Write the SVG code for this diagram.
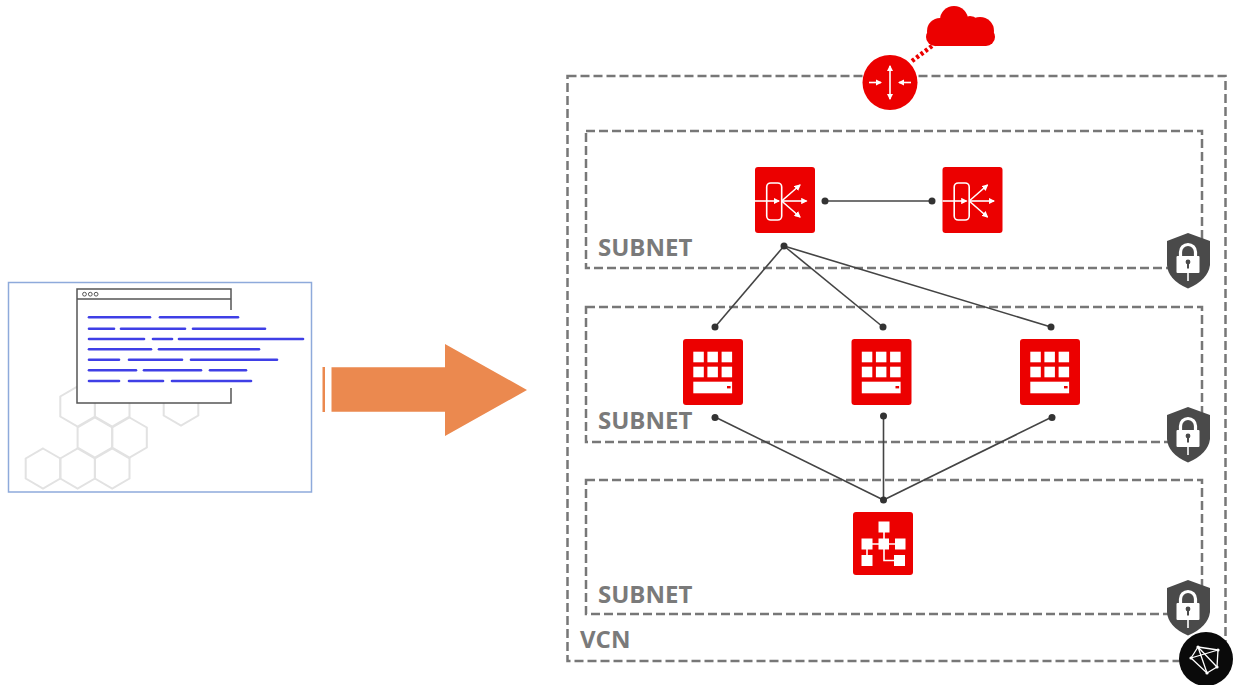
<svg xmlns="http://www.w3.org/2000/svg" width="1233" height="685" viewBox="0 0 1233 685">
  <style>
    .dash { fill: none; stroke: #777; stroke-width: 2.5; stroke-dasharray: 9 4; }
    .lbl { font-family: "Open Sans", "Liberation Sans", sans-serif; font-weight: bold; font-size: 24px; fill: #7a7a7a; }
    .hex { fill: none; stroke: #e2e2e2; stroke-width: 2; }
    .code { stroke: #3f3fe6; stroke-width: 2.6; stroke-linecap: round; }
    .tile { fill: #ec0000; }
    .wline { stroke: #fff; stroke-width: 1.6; fill: none; }
    .conn { stroke: #444; stroke-width: 1.6; fill: none; }
    .dot { fill: #333; }
  </style>
  <defs>
    <path id="hexshape" d="M0,-20 L17.3,-10 L17.3,10 L0,20 L-17.3,10 L-17.3,-10 Z"/>
    <marker id="wtip" viewBox="0 0 6 6" refX="5" refY="3" markerWidth="4" markerHeight="4" orient="auto-start-reverse">
      <path d="M0,0 L6,3 L0,6 Z" fill="#fff"/>
    </marker>
    <g id="shield">
      <path d="M1188,233 L1210,241 L1210,265 Q1208,280 1188,288.5 Q1168,280 1167,265 L1167,241 Z" fill="#4a4a4a"/>
      <path d="M1180.5,257 L1180.5,252 A7.5,7.5 0 0 1 1195.5,252 L1195.5,257" fill="none" stroke="#fff" stroke-width="3.2"/>
      <rect x="1176.5" y="256" width="23" height="17" rx="1" fill="#fff"/>
      <circle cx="1188" cy="262" r="2.4" fill="#4a4a4a"/>
      <rect x="1187" y="262" width="2" height="6.5" fill="#4a4a4a"/>
      <line x1="1188" y1="273" x2="1188" y2="281" stroke="#fff" stroke-width="1.6"/>
    </g>
    <g id="compute">
      <rect x="0" y="0" width="60" height="66" rx="3" class="tile"/>
      <g fill="#fff">
        <rect x="10.3" y="12.7" width="10.5" height="10.6"/>
        <rect x="24.4" y="12.7" width="10.5" height="10.6"/>
        <rect x="38.6" y="12.7" width="10.5" height="10.6"/>
        <rect x="10.3" y="27.7" width="10.5" height="10.6"/>
        <rect x="24.4" y="27.7" width="10.5" height="10.6"/>
        <rect x="38.6" y="27.7" width="10.5" height="10.6"/>
        <rect x="10.3" y="42.7" width="38.8" height="11.6"/>
      </g>
      <rect x="44" y="47" width="3.6" height="2.4" fill="#ec0000"/>
    </g>
    <g id="lb">
      <rect x="0" y="0" width="60" height="66" rx="3" class="tile"/>
      <rect x="11.7" y="16" width="15" height="37" rx="4" class="wline"/>
      <line x1="0" y1="34" x2="24" y2="34" class="wline" marker-end="url(#wtip)"/>
      <line x1="26.7" y1="34" x2="45" y2="18" class="wline" marker-end="url(#wtip)"/>
      <line x1="26.7" y1="34" x2="51.5" y2="34" class="wline" marker-end="url(#wtip)"/>
      <line x1="26.7" y1="34" x2="45" y2="50" class="wline" marker-end="url(#wtip)"/>
    </g>
  </defs>

  <rect width="1233" height="685" fill="#fff"/>

  <!-- source: code page with hex pattern -->
  <g id="source">
    <rect x="8.5" y="282.5" width="303" height="209.5" fill="#fff" stroke="#8eaadb" stroke-width="1.5"/>
    <g class="hex">
      <use href="#hexshape" x="43" y="468.5"/>
      <use href="#hexshape" x="77.6" y="468.5"/>
      <use href="#hexshape" x="112.2" y="468.5"/>
      <use href="#hexshape" x="94.9" y="437.5"/>
      <use href="#hexshape" x="129.5" y="437.5"/>
      <use href="#hexshape" x="77.6" y="406.5"/>
      <use href="#hexshape" x="112.2" y="406.5"/>
      <use href="#hexshape" x="181" y="405.5"/>
    </g>
    <rect x="77" y="289" width="154" height="114" fill="#fff"/>
    <g fill="none" stroke="#555" stroke-width="1.5">
      <path d="M231,310 L231,289 L77,289 L77,403 L231,403 L231,388"/>
      <line x1="77" y1="299" x2="231" y2="299"/>
      <circle cx="84.5" cy="294.2" r="1.9" stroke-width="1"/>
      <circle cx="90.3" cy="294.2" r="1.9" stroke-width="1"/>
      <circle cx="96.1" cy="294.2" r="1.9" stroke-width="1"/>
    </g>
    <g class="code">
      <line x1="89" y1="317.3" x2="150" y2="317.3"/><line x1="160" y1="317.3" x2="238" y2="317.3"/>
      <line x1="89" y1="328.7" x2="114" y2="328.7"/><line x1="121" y1="328.7" x2="185" y2="328.7"/><line x1="193" y1="328.7" x2="265" y2="328.7"/>
      <line x1="89" y1="339" x2="144" y2="339"/><line x1="153" y1="339" x2="172" y2="339"/><line x1="179" y1="339" x2="303" y2="339"/>
      <line x1="89" y1="349.3" x2="151" y2="349.3"/><line x1="159" y1="349.3" x2="259" y2="349.3"/>
      <line x1="89" y1="359.7" x2="119" y2="359.7"/><line x1="129" y1="359.7" x2="182" y2="359.7"/><line x1="191" y1="359.7" x2="277" y2="359.7"/>
      <line x1="89" y1="370.3" x2="136" y2="370.3"/><line x1="144" y1="370.3" x2="201" y2="370.3"/><line x1="210" y1="370.3" x2="246" y2="370.3"/>
      <line x1="89" y1="381" x2="119" y2="381"/><line x1="129" y1="381" x2="163" y2="381"/><line x1="172" y1="381" x2="251" y2="381"/>
    </g>
  </g>

  <!-- transformation arrow -->
  <g id="arrow" fill="#eb894f">
    <rect x="322.5" y="367" width="2.5" height="45"/>
    <path d="M331.5,367.3 L445,367.3 L445,344 L527,390 L445,436 L445,411.7 L331.5,411.7 Z"/>
  </g>

  <!-- network containers -->
  <g id="vcn">
    <rect x="567.5" y="76" width="658" height="585" class="dash"/>
    <text x="580" y="648" class="lbl">VCN</text>
  </g>
  <g id="subnet-lb">
    <rect x="586" y="131" width="616" height="137" class="dash"/>
    <text x="598" y="255.5" class="lbl">SUBNET</text>
  </g>
  <g id="subnet-app">
    <rect x="586" y="307" width="616" height="135" class="dash"/>
    <text x="598" y="428.5" class="lbl">SUBNET</text>
  </g>
  <g id="subnet-data">
    <rect x="586" y="480" width="616" height="134" class="dash"/>
    <text x="598" y="602.5" class="lbl">SUBNET</text>
  </g>

  <!-- connectors -->
  <g id="connectors">
    <line x1="912" y1="61" x2="936" y2="43" stroke="#ec0000" stroke-width="4.5" stroke-dasharray="3 2.5"/>
    <line x1="825" y1="201" x2="932" y2="201" class="conn"/>
    <line x1="784" y1="246" x2="715" y2="327" class="conn"/>
    <line x1="784" y1="246" x2="883" y2="327" class="conn"/>
    <line x1="784" y1="246" x2="1051" y2="327" class="conn"/>
    <line x1="715" y1="417" x2="883.5" y2="500" class="conn"/>
    <line x1="883.5" y1="416" x2="883.5" y2="500" class="conn"/>
    <line x1="1052" y1="417" x2="883.5" y2="500" class="conn"/>
    <circle cx="825" cy="201" r="3.5" class="dot"/>
    <circle cx="932" cy="201" r="3.5" class="dot"/>
    <circle cx="784" cy="246" r="3.5" class="dot"/>
    <circle cx="715" cy="327" r="3.5" class="dot"/>
    <circle cx="883" cy="327" r="3.5" class="dot"/>
    <circle cx="1051" cy="327" r="3.5" class="dot"/>
    <circle cx="715" cy="417.5" r="3.5" class="dot"/>
    <circle cx="883.5" cy="416" r="3.5" class="dot"/>
    <circle cx="1052" cy="417.5" r="3.5" class="dot"/>
    <circle cx="883.5" cy="500" r="3.5" class="dot"/>
  </g>

  <!-- internet cloud -->
  <g id="internet" fill="#ec0000">
    <rect x="926" y="28" width="69" height="18" rx="9"/>
    <circle cx="940" cy="31" r="13"/>
    <circle cx="954" cy="20" r="14"/>
    <circle cx="980" cy="31" r="14"/>
    <circle cx="970" cy="26" r="10"/>
  </g>

  <!-- internet gateway -->
  <g id="gateway">
    <circle cx="890" cy="82.5" r="27.5" fill="#ec0000"/>
    <line x1="890" y1="66" x2="890" y2="99" class="wline" marker-start="url(#wtip)" marker-end="url(#wtip)"/>
    <line x1="869" y1="82.5" x2="881" y2="82.5" class="wline" marker-end="url(#wtip)"/>
    <line x1="911" y1="82.5" x2="899" y2="82.5" class="wline" marker-end="url(#wtip)"/>
  </g>

  <!-- load balancers -->
  <g id="lb-1"><use href="#lb" x="755" y="167"/></g>
  <g id="lb-2"><use href="#lb" x="942.5" y="167"/></g>

  <!-- compute instances -->
  <g id="vm-1"><use href="#compute" x="683" y="339"/></g>
  <g id="vm-2"><use href="#compute" x="851.5" y="339"/></g>
  <g id="vm-3"><use href="#compute" x="1020" y="339"/></g>

  <!-- database / data tier -->
  <g id="data">
    <rect x="853" y="512" width="60" height="63" rx="3" class="tile"/>
    <g class="wline">
      <line x1="884" y1="527" x2="884" y2="544"/>
      <line x1="867" y1="544" x2="900" y2="544"/>
      <line x1="867" y1="544" x2="867" y2="560"/>
      <path d="M884,544 L884,560.5 L899,560.5"/>
    </g>
    <g fill="#fff">
      <rect x="878.5" y="521.5" width="11" height="11"/>
      <rect x="861.5" y="538.5" width="11" height="11"/>
      <rect x="878.5" y="538.5" width="10.5" height="11"/>
      <rect x="895" y="538.5" width="10.5" height="11"/>
      <rect x="861.5" y="555" width="11" height="11"/>
      <rect x="894" y="555" width="11" height="11"/>
    </g>
  </g>

  <!-- security lists -->
  <g id="sec-1"><use href="#shield"/></g>
  <g id="sec-2"><use href="#shield" y="174"/></g>
  <g id="sec-3"><use href="#shield" y="347"/></g>

  <!-- VCN badge -->
  <g id="vcn-badge">
    <circle cx="1206" cy="659" r="27" fill="#0a0a0a"/>
    <g fill="none" stroke="#fff" stroke-width="1.3" stroke-linejoin="round">
      <path d="M1198,647 L1218,650 L1217,667 L1207,673 L1191,658 Z"/>
      <path d="M1198,647 L1207,673 M1191,658 L1218,650 M1198,647 L1217,667"/>
    </g>
    <g fill="#fff">
      <circle cx="1198" cy="647" r="1.6"/>
      <circle cx="1218" cy="650" r="1.6"/>
      <circle cx="1217" cy="667" r="1.6"/>
      <circle cx="1207" cy="673" r="1.6"/>
      <circle cx="1191" cy="658" r="1.6"/>
    </g>
  </g>
</svg>
